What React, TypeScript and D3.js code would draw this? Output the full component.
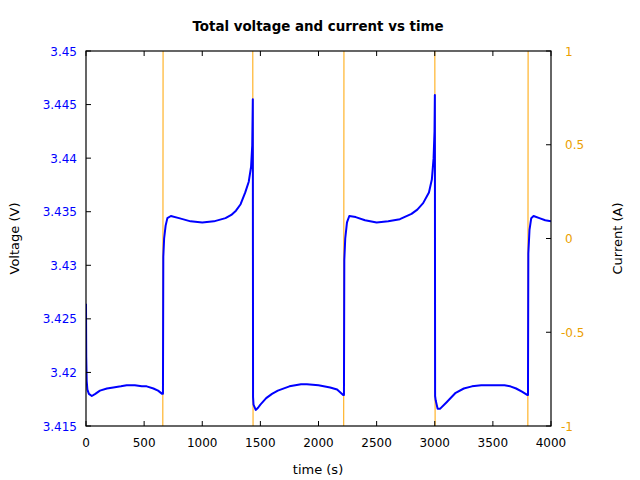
import React from "react";
import * as d3 from "d3";

const title = "Total voltage and current vs time";
const xLabel = "time (s)";
const yLeftLabel = "Voltage (V)";
const yRightLabel = "Current (A)";

const xTicks = [0, 500, 1000, 1500, 2000, 2500, 3000, 3500, 4000];
const vTicks = [3.415, 3.42, 3.425, 3.43, 3.435, 3.44, 3.445, 3.45];
const iTicks = [-1, -0.5, 0, 0.5, 1];

const voltageTime = [
  0, 2, 6, 12, 25, 50, 80, 120, 180, 235, 300, 350, 420, 480, 522, 580, 620, 655,
  662, 665, 672, 685, 700, 730, 800, 900, 1000, 1100, 1200, 1250, 1290, 1330, 1370, 1400, 1420, 1430, 1435,
  1437, 1441, 1460, 1480, 1500, 1550, 1600, 1650, 1750, 1850, 1900, 2000, 2100, 2160, 2212,
  2219, 2222, 2230, 2245, 2265, 2320, 2400, 2500, 2600, 2700, 2800, 2850, 2900, 2950, 2975, 2990, 2998, 3001,
  3003, 3008, 3025, 3045, 3100, 3180, 3250, 3320, 3400, 3500, 3600, 3650, 3700, 3750, 3795,
  3802, 3805, 3815, 3830, 3850, 3900, 3950, 4000,
];
const voltageValue = [
  3.4264, 3.4215, 3.4192, 3.4184, 3.4180, 3.4178, 3.4180, 3.4183, 3.4185, 3.4186, 3.4187, 3.4188, 3.4188, 3.4187, 3.4187, 3.4185, 3.4183, 3.4180,
  3.4180, 3.4308, 3.4325, 3.4337, 3.4344, 3.4346, 3.4344, 3.4341, 3.4340, 3.4341, 3.4344, 3.4347, 3.4351, 3.4357, 3.4368, 3.4378, 3.4392, 3.4412, 3.4455,
  3.4177, 3.4170, 3.4165, 3.4167, 3.4170, 3.4176, 3.4180, 3.4183, 3.4187, 3.4189, 3.4189, 3.4188, 3.4186, 3.4184, 3.4179,
  3.4179, 3.4305, 3.4325, 3.4340, 3.4346, 3.4345, 3.4342, 3.4340, 3.4341, 3.4343, 3.4348, 3.4352, 3.4358, 3.4368, 3.4380, 3.4400, 3.4425, 3.4459,
  3.4178, 3.4174, 3.4166, 3.4166, 3.4172, 3.4181, 3.4185, 3.4187, 3.4188, 3.4188, 3.4188, 3.4187, 3.4185, 3.4182, 3.4179,
  3.4179, 3.4311, 3.4333, 3.4344, 3.4346, 3.4344, 3.4342, 3.4341,
];

const currentTime = [0, 660, 664, 1434, 1438, 2216, 2220, 3000, 3004, 3800, 3804, 4000];
const currentValue = [-2, -2, 2, 2, -2, -2, 2, 2, -2, -2, 2, 2];

const W = 640;
const H = 480;
const margin = { left: 86, right: 89, top: 51, bottom: 54 };
const font = "DejaVu Sans, sans-serif";
const orange = "#FFA500";
const orangeText = "#EBA000";

export default function App() {
  const x0 = margin.left;
  const x1 = W - margin.right;
  const y0 = margin.top;
  const y1 = H - margin.bottom;

  const x = d3.scaleLinear().domain([0, 4000]).range([x0, x1]);
  const yV = d3.scaleLinear().domain([3.415, 3.45]).range([y1, y0]);
  const yI = d3.scaleLinear().domain([-1, 1]).range([y1, y0]);

  const vPts = voltageTime.map((t, i) => [t, voltageValue[i]] as [number, number]);
  const iPts = currentTime.map((t, i) => [t, currentValue[i]] as [number, number]);

  const vLine = d3
    .line<[number, number]>()
    .x((d) => x(d[0]))
    .y((d) => yV(d[1]));
  const iLine = d3
    .line<[number, number]>()
    .x((d) => x(d[0]))
    .y((d) => yI(d[1]));

  const tickLen = 5;

  return (
    <svg
      width={W}
      height={H}
      style={{ position: "absolute", left: 0, top: 0, background: "#fff" }}
      fontFamily={font}
    >
      <defs>
        <clipPath id="plotclip">
          <rect x={x0} y={y0} width={x1 - x0} height={y1 - y0} />
        </clipPath>
      </defs>
      <rect x={0} y={0} width={W} height={H} fill="#fff" />

      <g clipPath="url(#plotclip)">
        <path d={iLine(iPts) || ""} fill="none" stroke={orange} strokeWidth={1} />
        <path
          d={vLine(vPts) || ""}
          fill="none"
          stroke="#0000FF"
          strokeWidth={2}
          strokeLinejoin="round"
        />
      </g>

      <rect x={x0} y={y0} width={x1 - x0} height={y1 - y0} fill="none" stroke="#000" strokeWidth={1.2} />

      {xTicks.map((t) => (
        <g key={"x" + t}>
          <line x1={x(t)} x2={x(t)} y1={y1} y2={y1 - tickLen} stroke="#000" strokeWidth={1} />
          <line x1={x(t)} x2={x(t)} y1={y0} y2={y0 + tickLen} stroke="#000" strokeWidth={1} />
          <text x={x(t)} y={y1 + 21} textAnchor="middle" fontSize={12} fill="#000">
            {t}
          </text>
        </g>
      ))}

      {vTicks.map((v) => (
        <g key={"v" + v}>
          <line x1={x0} x2={x0 + tickLen} y1={yV(v)} y2={yV(v)} stroke="#000" strokeWidth={1} />
          <text x={x0 - 9} y={yV(v) + 4.5} textAnchor="end" fontSize={12} fill="#0000FF">
            {d3.format("")(+v.toFixed(3))}
          </text>
        </g>
      ))}

      {iTicks.map((v) => (
        <g key={"i" + v}>
          <line x1={x1} x2={x1 - tickLen} y1={yI(v)} y2={yI(v)} stroke="#000" strokeWidth={1} />
          <text
            x={x1 + 14 - (v < 0 ? 4 : 0)}
            y={yI(v) + 4.5}
            textAnchor="start"
            fontSize={12}
            fill={orangeText}
          >
            {String(v)}
          </text>
        </g>
      ))}

      <text x={318} y={31} textAnchor="middle" fontSize={13.4} fontWeight="bold" fill="#000">
        {title}
      </text>
      <text x={318} y={474} textAnchor="middle" fontSize={13} fill="#000">
        {xLabel}
      </text>
      <text
        transform={`translate(19, ${(y0 + y1) / 2}) rotate(-90)`}
        textAnchor="middle"
        fontSize={13}
        fill="#000"
      >
        {yLeftLabel}
      </text>
      <text
        transform={`translate(622, ${(y0 + y1) / 2}) rotate(-90)`}
        textAnchor="middle"
        fontSize={13}
        fill="#000"
      >
        {yRightLabel}
      </text>
    </svg>
  );
}
